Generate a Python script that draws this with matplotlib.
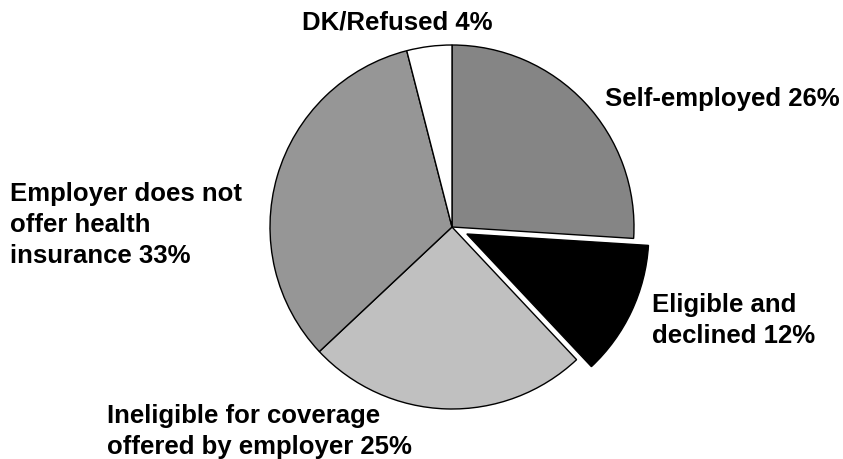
import matplotlib.pyplot as plt

# Reasons for being uninsured among workers
labels = ["Self-employed 26%", "Eligible and\ndeclined 12%",
          "Ineligible for coverage\noffered by employer 25%",
          "Employer does not\noffer health\ninsurance 33%", "DK/Refused 4%"]
shares = [26, 12, 25, 33, 4]
colors = ["#858585", "#000000", "#c0c0c0", "#969696", "#ffffff"]
explode = [0, 0.09, 0, 0, 0]

W, H = 843, 460
cx, cy, R = 452, 228, 182  # pie centre / radius in pixels

fig = plt.figure(figsize=(W / 100, H / 100), dpi=100)
ax = fig.add_axes([0, 0, 1, 1])
ax.pie(shares, colors=colors, explode=explode, startangle=90, counterclock=False,
       radius=1, wedgeprops=dict(edgecolor="black", linewidth=1))
ax.set_xlim(-cx / R, (W - cx) / R)
ax.set_ylim(-(H - cy) / R, cy / R)
ax.set_aspect("equal")
ax.axis("off")

# label anchors (pixels, left/top of text box)
spots = [(605, 87), (652, 293), (107, 404), (10, 182), (302, 11)]
for txt, (x, y) in zip(labels, spots):
    fig.text(x / W, 1 - y / H, txt, ha="left", va="top", fontsize=18.5,
             fontweight="bold", family="Liberation Sans", linespacing=1.37)

fig.savefig("out.png", dpi=100)
